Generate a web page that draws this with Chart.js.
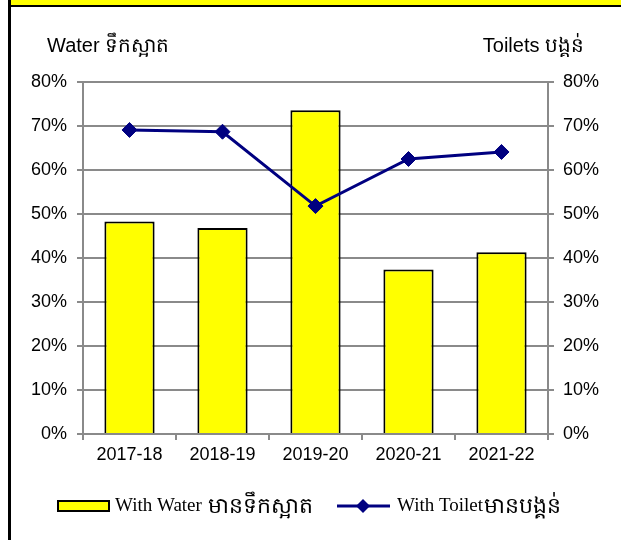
<!DOCTYPE html>
<html>
<head>
<meta charset="utf-8">
<script src="https://cdn.jsdelivr.net/npm/chart.js@4.4.0/dist/chart.umd.min.js"></script>
<style>
  html, body { margin: 0; padding: 0; background: #fff; width: 621px; height: 540px; overflow: hidden; }
  #frame { position: absolute; left: 8px; top: -3px; width: 640px; height: 600px; border: 3px solid #000; background: #fff; }
  #band { position: absolute; left: 0; top: 0; width: 100%; height: 5px; background: #ffff00; border-bottom: 2px solid #000; }
  #wrap { position: absolute; left: 0; top: 0; width: 621px; height: 540px; }
</style>
</head>
<body>
<div id="frame"><div id="band"></div></div>
<div id="wrap"><canvas id="chart" width="621" height="540"></canvas></div>
<script>
const years = ['2017-18', '2018-19', '2019-20', '2020-21', '2021-22'];
const withWater = [48.3, 46.8, 73.6, 37.4, 41.3];
const withToilet = [69.1, 68.7, 51.8, 62.5, 64.1];
const yTicks = [0, 10, 20, 30, 40, 50, 60, 70, 80];

const leftTitle = 'Water ទឹកស្អាត';
const rightTitle = 'Toilets បង្គន់';
const waterLabel = ['With Water ', 'មានទឹកស្អាត'];
const toiletLabel = ['With Toilet', 'មានបង្គន់'];

const SANS = "'Liberation Sans', Arial, sans-serif";
const SERIF = "'Liberation Serif', 'Times New Roman', serif";
const GRID = '#8a8a8a';

// titles above the axes and the legend at the bottom
const extras = {
  id: 'extras',
  afterDraw(chart) {
    const ctx = chart.ctx;
    ctx.save();
    ctx.fillStyle = '#000';
    ctx.textBaseline = 'alphabetic';
    ctx.font = '20px ' + SANS;
    ctx.textAlign = 'left';
    ctx.fillText(leftTitle, 47, 52);
    ctx.textAlign = 'right';
    ctx.fillText(rightTitle, 584, 52);

    // bar legend
    const ly = 506;
    ctx.fillStyle = '#ffff00';
    ctx.fillRect(58, ly - 5, 51, 10);
    ctx.lineWidth = 2;
    ctx.strokeStyle = '#000';
    ctx.strokeRect(58, ly - 5, 51, 10);
    ctx.fillStyle = '#000';
    ctx.textAlign = 'left';
    ctx.textBaseline = 'middle';
    ctx.font = '19px ' + SERIF;
    ctx.fillText(waterLabel[0], 115, ly);
    ctx.font = '22px ' + SANS;
    ctx.fillText(waterLabel[1], 208, ly + 1);

    // line legend
    ctx.strokeStyle = '#000080';
    ctx.lineWidth = 3;
    ctx.beginPath();
    ctx.moveTo(337, ly);
    ctx.lineTo(390, ly);
    ctx.stroke();
    ctx.fillStyle = '#000080';
    ctx.beginPath();
    ctx.moveTo(363, ly - 7);
    ctx.lineTo(370, ly);
    ctx.lineTo(363, ly + 7);
    ctx.lineTo(356, ly);
    ctx.closePath();
    ctx.fill();
    ctx.fillStyle = '#000';
    ctx.font = '19px ' + SERIF;
    ctx.fillText(toiletLabel[0], 397, ly);
    ctx.font = '22px ' + SANS;
    ctx.fillText(toiletLabel[1], 484, ly + 1);
    ctx.restore();
  }
};

new Chart(document.getElementById('chart'), {
  type: 'bar',
  data: {
    labels: years,
    datasets: [
      {
        type: 'line',
        label: toiletLabel.join(''),
        data: withToilet,
        yAxisID: 'y1',
        borderColor: '#000080',
        backgroundColor: '#000080',
        borderWidth: 3,
        pointStyle: 'rectRot',
        pointRadius: 7.5,
        pointBorderWidth: 1,
        tension: 0,
        order: 0
      },
      {
        label: waterLabel.join(''),
        data: withWater,
        yAxisID: 'y',
        backgroundColor: '#ffff00',
        borderColor: '#000',
        borderWidth: 2,
        barPercentage: 0.54,
        categoryPercentage: 1,
        order: 1
      }
    ]
  },
  options: {
    responsive: false,
    animation: false,
    layout: { padding: { top: 82, left: 0, right: 0, bottom: 0 } },
    plugins: {
      legend: { display: false },
      tooltip: { enabled: false }
    },
    scales: {
      x: {
        grid: { drawOnChartArea: false, color: GRID, lineWidth: 2, tickLength: 6, offset: true },
        border: { color: GRID, width: 2 },
        ticks: { color: '#000', font: { family: SANS, size: 18 }, padding: 4 },
        afterFit(scale) { scale.height = 106; }
      },
      y: {
        position: 'left',
        min: 0,
        max: 80,
        afterBuildTicks(scale) { scale.ticks = yTicks.map(v => ({ value: v })); },
        grid: { color: GRID, lineWidth: 2, tickLength: 6 },
        border: { color: GRID, width: 2 },
        ticks: { color: '#000', font: { family: SANS, size: 18 }, padding: 10, callback: v => v + '%' },
        afterFit(scale) { scale.width = 83; }
      },
      y1: {
        position: 'right',
        min: 0,
        max: 80,
        afterBuildTicks(scale) { scale.ticks = yTicks.map(v => ({ value: v })); },
        grid: { drawOnChartArea: false, color: GRID, lineWidth: 2, tickLength: 6 },
        border: { color: GRID, width: 2 },
        ticks: { color: '#000', font: { family: SANS, size: 18 }, padding: 9, callback: v => v + '%' },
        afterFit(scale) { scale.width = 73; }
      }
    }
  },
  plugins: [extras]
});
</script>
</body>
</html>
